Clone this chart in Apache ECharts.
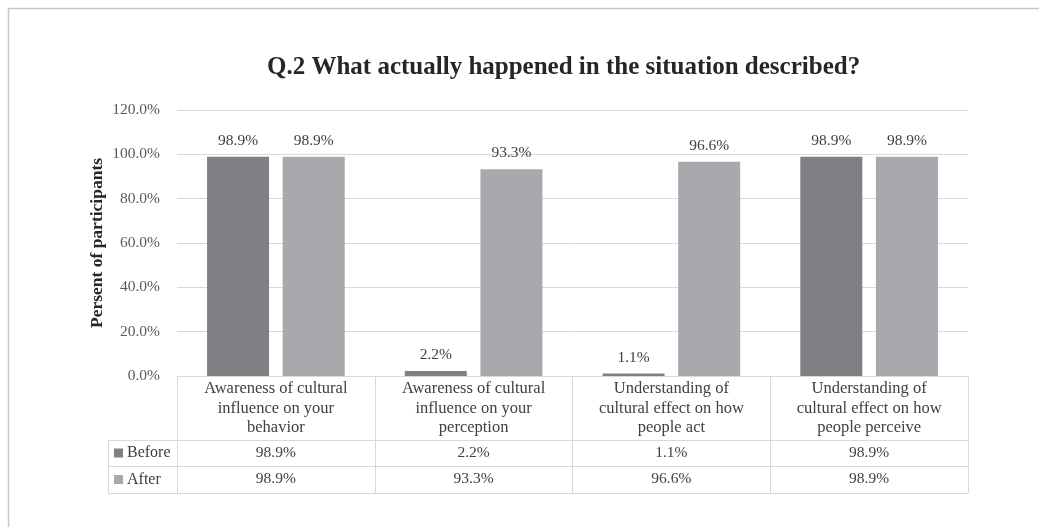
<!DOCTYPE html>
<html>
<head>
<meta charset="utf-8">
<script src="https://cdn.jsdelivr.net/npm/echarts@6/dist/echarts.min.js"></script>
<style>
  html, body { margin: 0; padding: 0; background: #fff; }
  #chart { width: 1039px; height: 527px; }
</style>
</head>
<body>
<div id="chart"></div>
<script>
// Survey results, Q.2
const categories = [
  'Awareness of cultural\ninfluence on your\nbehavior',
  'Awareness of cultural\ninfluence on your\nperception',
  'Understanding of\ncultural effect on how\npeople act',
  'Understanding of\ncultural effect on how\npeople perceive'
];
const seriesNames = ['Before', 'After'];
const beforeValues = [98.9, 2.2, 1.1, 98.9];
const afterValues = [98.9, 93.3, 96.6, 98.9];
const yTicks = { min: 0, max: 120, interval: 20 };

const FONT = '"Liberation Serif", "DejaVu Serif", serif';
const colors = ['#7f8084', '#a8a9ac'];
const lineColor = '#d9d9d9';
const textColor = '#404040';

// layout of plot + data table
const W = 1039, H = 527;
const plot = { left: 177, right: 968, top: 110, bottom: 376 };
const table = { left: 108, headerBottom: 440, row1Bottom: 466, row2Bottom: 493 };

const pct = v => v.toFixed(1) + '%';

const chart = echarts.init(document.getElementById('chart'), null, { renderer: 'canvas' });

const tableAxis = (values, offset) => ({
  type: 'category',
  gridIndex: 0,
  position: 'bottom',
  offset: offset,
  data: values.map(pct),
  axisLine: { show: false },
  axisTick: { show: false },
  splitLine: { show: false },
  axisLabel: {
    interval: 0,
    margin: 5,
    fontFamily: FONT,
    fontSize: 15.5,
    color: textColor
  }
});

chart.setOption({
  animation: false,
  title: {
    text: 'Q.2 What actually happened in the situation described?',
    left: 262,
    top: 50,
    textStyle: { fontFamily: FONT, fontSize: 25, fontWeight: 'bold', color: '#262626' }
  },
  grid: {
    left: plot.left,
    right: W - plot.right,
    top: plot.top,
    bottom: H - plot.bottom,
    containLabel: false
  },
  xAxis: [
    {
      type: 'category',
      data: categories,
      axisLine: { show: true, lineStyle: { color: lineColor, width: 1 } },
      axisTick: {
        show: true,
        interval: 0,
        length: table.row2Bottom - plot.bottom,
        lineStyle: { color: lineColor, width: 1 }
      },
      axisLabel: {
        interval: 0,
        margin: 3,
        fontFamily: FONT,
        fontSize: 16.5,
        lineHeight: 19.5,
        color: textColor
      }
    },
    tableAxis(beforeValues, table.headerBottom - plot.bottom),
    tableAxis(afterValues, table.row1Bottom - plot.bottom)
  ],
  yAxis: {
    type: 'value',
    min: yTicks.min,
    max: yTicks.max,
    interval: yTicks.interval,
    name: 'Persent of participants',
    nameLocation: 'middle',
    nameRotate: 90,
    nameGap: 71,
    nameMoveOverlap: false,
    nameTextStyle: { fontFamily: FONT, fontSize: 17.5, fontWeight: 'bold', color: '#262626' },
    axisLine: { show: false },
    axisTick: { show: false },
    splitLine: { lineStyle: { color: lineColor, width: 1 } },
    axisLabel: {
      margin: 17,
      fontFamily: FONT,
      fontSize: 15.5,
      color: '#595959',
      formatter: v => pct(v)
    }
  },
  series: [beforeValues, afterValues].map((vals, i) => ({
    name: seriesNames[i],
    type: 'bar',
    data: vals,
    barWidth: 62,
    barGap: '22%',
    itemStyle: { color: colors[i] },
    label: {
      show: true,
      position: 'top',
      distance: 8,
      fontFamily: FONT,
      fontSize: 15.5,
      color: textColor,
      formatter: p => pct(p.value)
    }
  })),
  graphic: [
    // outer frame
    {
      type: 'rect', silent: true,
      shape: { x: 8.5, y: 8.5, width: W + 10, height: H + 10 },
      style: { fill: null, stroke: '#c6c6c6', lineWidth: 1.5 }
    },
    // data table rows
    ...[table.headerBottom, table.row1Bottom, table.row2Bottom].map(y => ({
      type: 'line', silent: true,
      shape: { x1: table.left, y1: y + 0.5, x2: plot.right, y2: y + 0.5 },
      style: { stroke: lineColor, lineWidth: 1 }
    })),
    {
      type: 'line', silent: true,
      shape: { x1: table.left + 0.5, y1: table.headerBottom, x2: table.left + 0.5, y2: table.row2Bottom },
      style: { stroke: lineColor, lineWidth: 1 }
    },
    // legend keys in the table
    ...seriesNames.flatMap((name, i) => {
      const top = i === 0 ? table.headerBottom : table.row1Bottom;
      const bottom = i === 0 ? table.row1Bottom : table.row2Bottom;
      const mid = (top + bottom) / 2;
      return [
        {
          type: 'rect', silent: true,
          shape: { x: 114, y: mid - 4.5, width: 9, height: 9 },
          style: { fill: colors[i] }
        },
        {
          type: 'text', silent: true,
          x: 127, y: mid,
          style: {
            text: name, fontFamily: FONT, fontSize: 16, fill: textColor,
            verticalAlign: 'middle', align: 'left'
          }
        }
      ];
    })
  ]
});
</script>
</body>
</html>
